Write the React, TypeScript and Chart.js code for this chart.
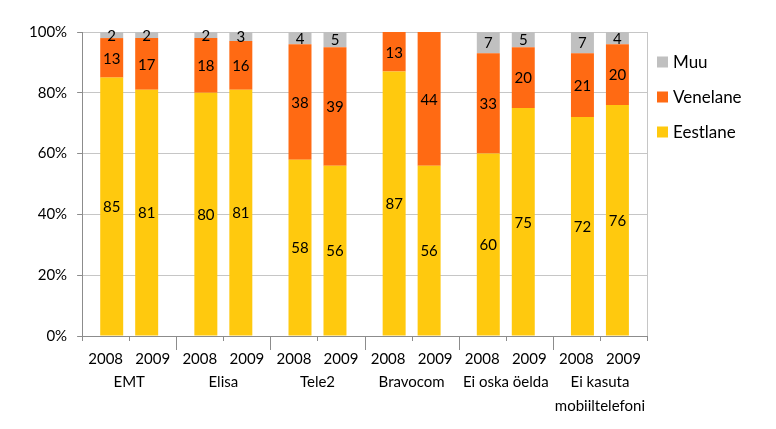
import { useEffect, useRef } from 'react';
import { Chart, registerables } from 'chart.js';

Chart.register(...registerables);

const GROUPS = ['EMT', 'Elisa', 'Tele2', 'Bravocom', 'Ei oska öelda', ['Ei kasuta', 'mobiiltelefoni']];
const YEARS = ['2008', '2009'];
const SERIES = ['Eestlane', 'Venelane', 'Muu'];
const COLORS = ['#FFC90E', '#FF6A13', '#C0C0C0'];

const EESTLANE_2008 = [85, 80, 58, 87, 60, 72];
const VENELANE_2008 = [13, 18, 38, 13, 33, 21];
const MUU_2008 = [2, 2, 4, null, 7, 7];

const EESTLANE_2009 = [81, 81, 56, 56, 75, 76];
const VENELANE_2009 = [17, 16, 39, 44, 20, 20];
const MUU_2009 = [2, 3, 5, null, 5, 4];

const Y_MAX = 100;
const Y_STEP = 20;

const FONT = 'Lato, "Open Sans", sans-serif';
const AXIS_COLOR = '#8c8c8c';
const GRID_COLOR = '#c6c6c6';

const BY_YEAR = [
  [EESTLANE_2008, VENELANE_2008, MUU_2008],
  [EESTLANE_2009, VENELANE_2009, MUU_2009],
];

// silt segmendi keskele, aastad tulpade alla, eraldusjooned ja legend
const decorations = {
  id: 'decorations',
  afterDatasetsDraw(chart: Chart) {
    const { ctx } = chart;
    ctx.save();
    ctx.font = `15px ${FONT}`;
    ctx.fillStyle = '#000';
    ctx.textAlign = 'center';
    ctx.textBaseline = 'middle';
    chart.data.datasets.forEach((ds, di) => {
      const meta = chart.getDatasetMeta(di);
      meta.data.forEach((el, i) => {
        const v = ds.data[i];
        if (v == null) return;
        const { x, y } = el.getCenterPoint();
        ctx.fillText(String(v), x, y + 1);
      });
    });
    ctx.restore();
  },
  afterDraw(chart: Chart) {
    const { ctx, chartArea } = chart;
    const xScale = chart.scales.x;
    const bottom = chartArea.bottom;
    ctx.save();

    // parem ääris
    ctx.strokeStyle = GRID_COLOR;
    ctx.lineWidth = 1;
    ctx.beginPath();
    ctx.moveTo(Math.round(chartArea.right) + 0.5, chartArea.top);
    ctx.lineTo(Math.round(chartArea.right) + 0.5, bottom);
    ctx.stroke();

    // x-telje kriipsud
    ctx.strokeStyle = AXIS_COLOR;
    ctx.beginPath();
    for (let i = 0; i <= GROUPS.length; i++) {
      const px = Math.round(xScale.getPixelForValue(i - 0.5)) + 0.5;
      const len = i === 0 || i === GROUPS.length ? 5 : 14;
      ctx.moveTo(px, bottom);
      ctx.lineTo(px, bottom + len);
    }
    for (let i = 0; i < GROUPS.length; i++) {
      const px = Math.round(xScale.getPixelForValue(i)) + 0.5;
      ctx.moveTo(px, bottom);
      ctx.lineTo(px, bottom + 5);
    }
    ctx.stroke();

    // aastad oma pesa keskele
    ctx.font = `15px ${FONT}`;
    ctx.fillStyle = '#000';
    ctx.textAlign = 'center';
    ctx.textBaseline = 'middle';
    GROUPS.forEach((_, i) => {
      YEARS.forEach((year, s) => {
        const px = xScale.getPixelForValue(i - 0.25 + s * 0.5);
        ctx.fillText(year, px, bottom + 23);
      });
    });

    // legend
    ctx.font = `17px ${FONT}`;
    ctx.textAlign = 'left';
    const legendX = chartArea.right + 10;
    const order = [2, 1, 0];
    order.forEach((si, row) => {
      const cy = 54 + row * 35;
      ctx.fillStyle = COLORS[si];
      ctx.fillRect(legendX, cy - 5.5, 11, 11);
      ctx.fillStyle = '#000';
      ctx.fillText(SERIES[si], legendX + 16, cy + 1);
    });

    ctx.restore();
  },
};

export default function App() {
  const canvasRef = useRef<HTMLCanvasElement>(null);
  const chartRef = useRef<Chart | null>(null);

  useEffect(() => {
    if (!canvasRef.current) return;
    if (chartRef.current) chartRef.current.destroy();

    const datasets = YEARS.flatMap((year, y) =>
      SERIES.map((name, s) => ({
        label: name,
        data: BY_YEAR[y][s],
        backgroundColor: COLORS[s],
        borderWidth: 0,
        stack: year,
        categoryPercentage: 0.743,
        barPercentage: 0.657,
      })),
    );

    chartRef.current = new Chart(canvasRef.current, {
      type: 'bar',
      data: { labels: GROUPS, datasets },
      plugins: [decorations],
      options: {
        animation: false,
        responsive: true,
        maintainAspectRatio: false,
        layout: { padding: { top: 24, left: 11, right: 121, bottom: 0 } },
        plugins: {
          legend: { display: false },
          tooltip: { enabled: false },
        },
        scales: {
          x: {
            stacked: true,
            offset: true,
            grid: { display: false, drawTicks: false },
            border: { display: true, color: AXIS_COLOR },
            afterFit: (scale) => {
              scale.height = 85;
            },
            ticks: {
              color: '#000',
              font: { family: FONT, size: 15, lineHeight: 1.55 },
              padding: 35,
              maxRotation: 0,
              minRotation: 0,
              autoSkip: false,
            },
          },
          y: {
            stacked: true,
            min: 0,
            max: Y_MAX,
            grid: { color: GRID_COLOR, tickColor: AXIS_COLOR, tickLength: 5 },
            border: { display: true, color: AXIS_COLOR },
            ticks: {
              stepSize: Y_STEP,
              color: '#000',
              padding: 10,
              font: { family: FONT, size: 15 },
              callback: (v) => `${v}%`,
            },
          },
        },
      },
    });

    return () => {
      chartRef.current?.destroy();
      chartRef.current = null;
    };
  }, []);

  return (
    <div style={{ position: 'relative', width: 760, height: 413 }}>
      <canvas ref={canvasRef} />
    </div>
  );
}
